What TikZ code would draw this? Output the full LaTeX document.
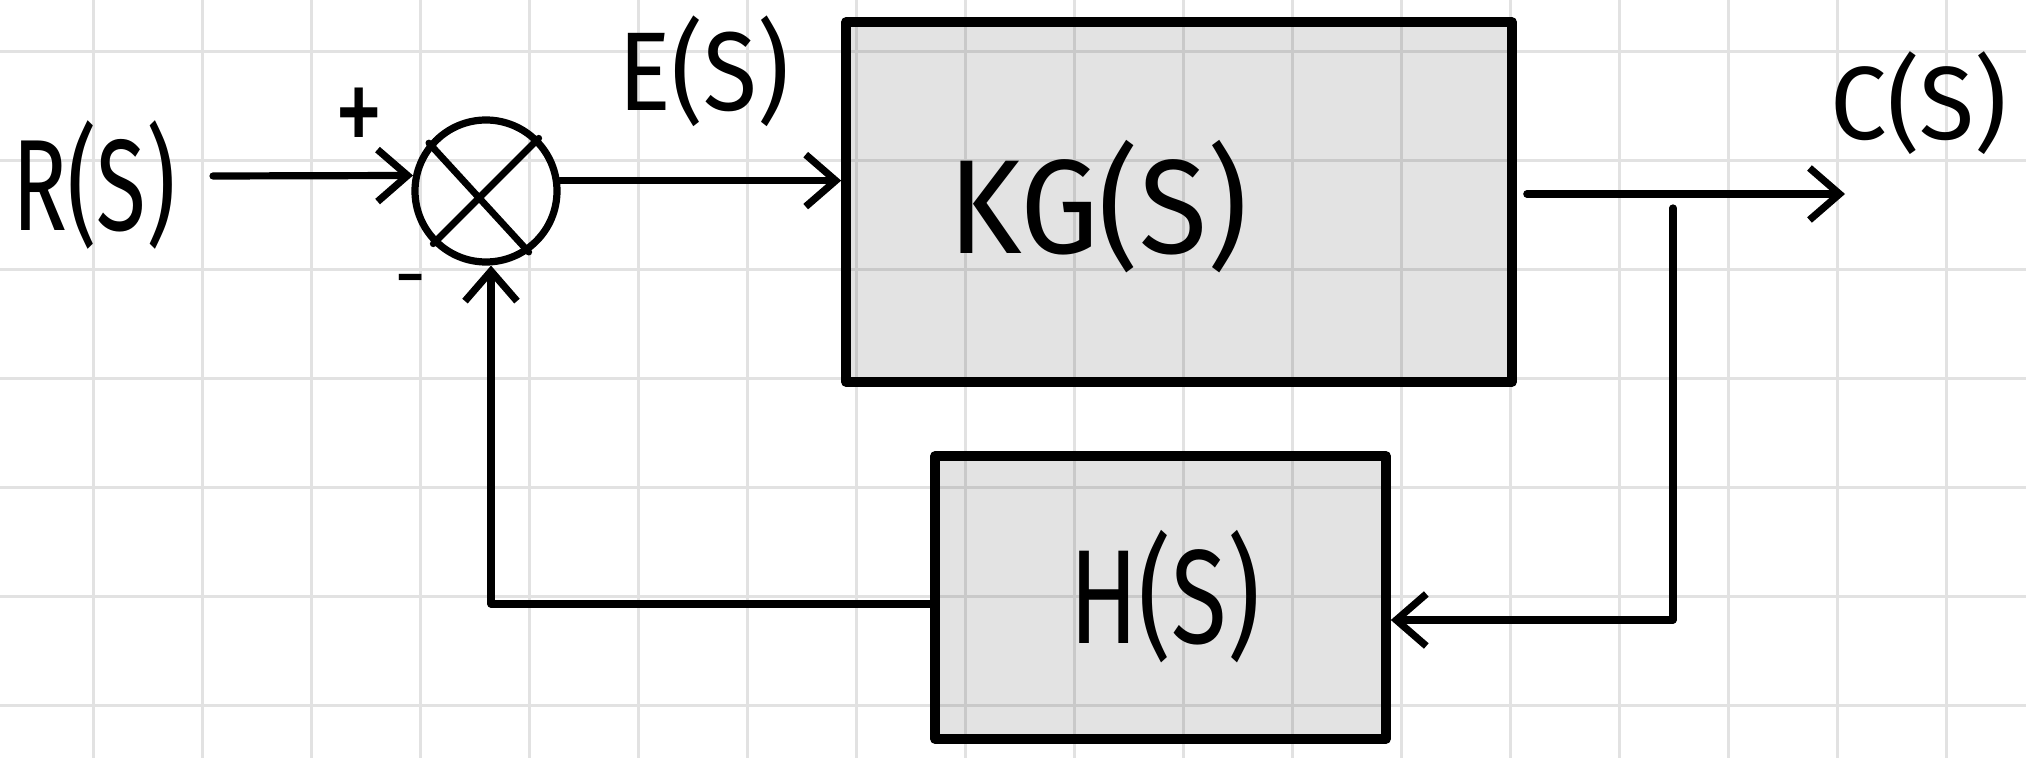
\documentclass[tikz,border=0pt]{standalone}
\usepackage{fontspec}
\newfontfamily\hand{Fira Sans}
\usetikzlibrary{arrows.meta}
\definecolor{gridc}{RGB}{226,226,226}
\newcommand\hw[3]{\scalebox{#1}[1]{\fontsize{#2}{#2}\selectfont\hand #3}}
\begin{document}
\begin{tikzpicture}[x=0.5pt,y=-0.5pt,line cap=round,line join=round,
  conn/.style={line width=3.6pt},
  arr/.style={conn,-{Straight Barb[length=15pt,width=26pt]}},
  blk/.style={rectangle,draw,line width=4.8pt,fill=black,fill opacity=0.11,draw opacity=1,text opacity=1,inner sep=0pt},
  lbl/.style={inner sep=0pt,text=black},
  gridline/.style={draw=gridc,line width=1.5pt}]
\useasboundingbox (0,0) rectangle (2026,758);
\fill[white] (0,0) rectangle (2026,758);
% grid
\foreach \i in {0,...,17} \path[gridline] ({93+109*\i},0) -- ({93+109*\i},758);
\foreach \j in {0,...,6} \path[gridline] (0,{52+109*\j}) -- (2026,{52+109*\j});
% blocks
\node[circle,draw,line width=3.6pt,minimum size=71pt,inner sep=0pt] (sum) at (486,191) {};
\draw[line width=3.4pt] (sum.140) -- (sum.-55);
\draw[line width=3.4pt] (sum.45) -- (sum.225);
\node[blk,minimum width=333pt,minimum height=180pt] (kg) at (1179,202) {};
\node[blk,minimum width=225.5pt,minimum height=141.5pt] (hb) at (1160.5,597.5) {};
% labels
\node[lbl] (rs) at (94,185) {\hw{0.70}{65pt}{R(S)}};
\node[lbl] (es) at (704,71) {\hw{0.88}{56pt}{E(S)}};
\node[lbl] (kgt) at (1098,207) {\hw{0.93}{67pt}{KG(S)}};
\node[lbl] (cs) at (1919,103) {\hw{0.97}{52pt}{C(S)}};
\node[lbl] (ht) at (1165,597) {\hw{0.76}{67pt}{H(S)}};
\node[lbl] (plus) at (359,122) {\hw{0.75}{66pt}{+}};
\node[lbl] (minus) at (411,288) {\hw{1}{40pt}{-}};
% connectors
\coordinate (rin) at (213,176);
\draw[arr] (rin) -- (sum.168);
\draw[arr] (sum.8) -- (kg.west |- sum.8);
\coordinate (cend) at (1845,194);
\draw[arr] ([xshift=5pt]kg.east |- cend) -- (cend);
\coordinate (btop) at (1673,208);
\coordinate (bcorner) at (1673,620);
\draw[arr] (btop) -- (bcorner) -- (hb.east |- bcorner);
\coordinate (fcorner) at (491,604);
\draw[arr] (hb.west |- fcorner) -- (fcorner) -- (sum.south -| fcorner);
\end{tikzpicture}
\end{document}
